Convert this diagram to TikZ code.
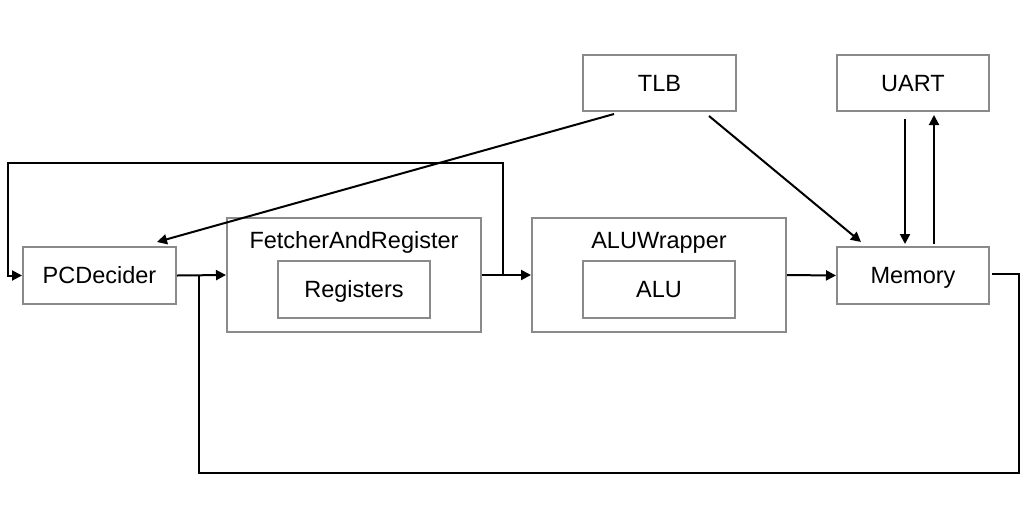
\documentclass[tikz,border=0pt]{standalone}
\usepackage{fontspec}
\setmainfont{Liberation Sans}
\usetikzlibrary{arrows.meta,calc}
\definecolor{boxgray}{RGB}{136,138,140}
\begin{document}
\begin{tikzpicture}[x=1pt,y=-1pt,
  txt/.style={font=\fontsize{23.5}{28}\selectfont,text height=16.8pt,text depth=0pt,inner sep=0pt},
  blk/.style={txt,draw=boxgray,line width=2pt},
  conn/.style={draw=black,line width=2pt,-{Triangle[length=10pt,width=10pt]}},
  wire/.style={draw=black,line width=2pt}]
\useasboundingbox (0,0) rectangle (1024,507);
\fill[white] (0,0) rectangle (1024,507);
\node[blk,minimum width=153pt,minimum height=56pt] (tlb) at (659.5,83) {TLB};
\node[blk,minimum width=152pt,minimum height=56pt] (uart) at (913,83) {UART};
\node[blk,minimum width=153pt,minimum height=57pt] (pc) at (99.5,275.5) {PCDecider};
\node[blk,minimum width=254pt,minimum height=114pt] (fetch) at (354,275) {};
\node[txt] (fetchtitle) at (354,240) {FetcherAndRegister};
\node[blk,minimum width=152pt,minimum height=57pt] (regs) at (354,289.5) {Registers};
\node[blk,minimum width=254pt,minimum height=114pt] (aluw) at (659,275) {};
\node[txt] (aluwtitle) at (659,240) {ALUWrapper};
\node[blk,minimum width=152pt,minimum height=57pt] (alu) at (659,289.5) {ALU};
\node[blk,minimum width=152pt,minimum height=57pt] (mem) at (913,275.5) {Memory};
% coordinates
\coordinate (fb) at (503,275);
\coordinate (fbtop) at (8,163);
\coordinate (pcb) at (199,275);
\coordinate (loopbot) at (199,473);
\coordinate (loopright) at (1019,473);
% connectors
\draw[conn] (fetch.east) -- (aluw.west);
\draw[conn] (fb) |- (fbtop) |- (pc.west);
\draw[conn] (pc.east) -- (fetch.west);
\draw[wire] ([yshift=2pt,xshift=2pt]mem.east) -| (loopright) -- (loopbot) -- (pcb);
\draw[conn] (aluw.east) -- (mem.west);
\draw[conn] ([xshift=-45.5pt,yshift=-2pt]tlb.south) -- ([xshift=57.5pt,yshift=4pt]pc.north);
\draw[conn] ([xshift=49.5pt,yshift=-4pt]tlb.south) -- ([xshift=-52pt,yshift=4pt]mem.north);
\draw[conn] ([xshift=-8pt,yshift=-7pt]uart.south) -- ([xshift=-8pt,yshift=2pt]mem.north);
\draw[conn] ([xshift=21pt,yshift=2pt]mem.north) -- ([xshift=21pt,yshift=-3pt]uart.south);
\end{tikzpicture}
\end{document}
